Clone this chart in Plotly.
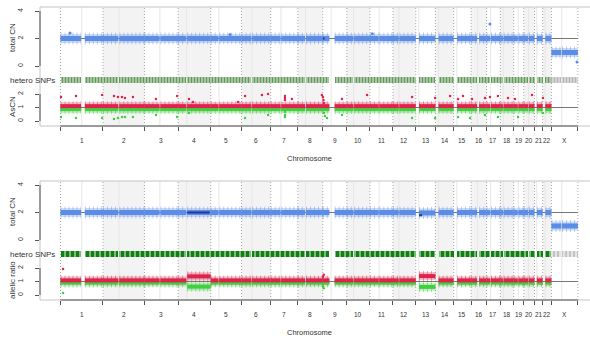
import plotly.graph_objects as go

# ---------------- data ----------------
CHROMS = ["1", "2", "3", "4", "5", "6", "7", "8", "9", "10", "11", "12",
          "13", "14", "15", "16", "17", "18", "19", "20", "21", "22", "X"]
CHROM_LEN = [249.25, 243.20, 198.02, 191.15, 180.92, 171.12, 159.14, 146.36,
             141.21, 135.53, 135.01, 133.85, 115.17, 107.35, 102.53, 90.35,
             81.20, 78.08, 59.13, 63.03, 48.13, 51.30, 155.27]
CENTROMERE = [125.0, 93.3, 91.0, 50.4, 48.4, 61.0, 59.9, 45.6, 49.0, 40.2, 53.7,
              35.8, 17.9, 17.6, 19.0, 36.6, 24.0, 17.2, 26.5, 27.5, 13.2, 14.7, 60.6]
GAP_START = [121, 90, 89, 48, 46, 58, 58, 43, 39, 39, 51, 34, 0, 0, 0, 35, 22, 15, 24, 26, 0, 0, 58]
GAP_END = [143, 96, 94, 53, 50, 62, 62, 48, 70, 43, 55, 38, 19, 19, 20, 47, 26, 19, 28, 30, 14, 16, 62]

# arm-level (p, q) values
TOP_CN_P = [2.0, 2.0, 2.0, 2.0, 2.0, 2.0, 2.0, 2.0, 2.0, 2.0, 2.0, 2.0, None, None, None, 2.0, 2.0, 2.0, 2.0, 2.0, None, None, 0.98]
TOP_CN_Q = [2.0, 2.0, 2.0, 2.0, 2.0, 2.0, 2.0, 2.0, 2.0, 2.0, 2.0, 2.0, 2.0, 2.0, 2.0, 2.0, 2.0, 2.0, 2.0, 2.0, 2.0, 2.0, 0.98]
TOP_MAJ_P = [1.1, 1.1, 1.1, 1.1, 1.1, 1.1, 1.1, 1.1, 1.1, 1.1, 1.1, 1.1, None, None, None, 1.1, 1.1, 1.1, 1.1, 1.1, None, None, None]
TOP_MAJ_Q = [1.1, 1.1, 1.1, 1.1, 1.1, 1.1, 1.1, 1.1, 1.1, 1.1, 1.1, 1.1, 1.1, 1.1, 1.1, 1.1, 1.1, 1.1, 1.1, 1.1, 1.1, 1.1, None]
TOP_MIN_P = [0.88, 0.88, 0.88, 0.88, 0.88, 0.88, 0.88, 0.88, 0.88, 0.88, 0.88, 0.88, None, None, None, 0.88, 0.88, 0.88, 0.88, 0.88, None, None, None]
TOP_MIN_Q = [0.88, 0.88, 0.88, 0.88, 0.88, 0.88, 0.88, 0.88, 0.88, 0.88, 0.88, 0.88, 0.88, 0.88, 0.88, 0.88, 0.88, 0.88, 0.88, 0.88, 0.88, 0.88, None]

BOT_CN_P = [2.0, 2.0, 2.0, 2.0, 2.0, 2.0, 2.0, 2.0, 2.0, 2.0, 2.0, 2.0, None, None, None, 2.0, 2.0, 2.0, 2.0, 2.0, None, None, 1.02]
BOT_CN_Q = [2.0, 2.0, 2.0, 2.0, 2.0, 2.0, 2.0, 2.0, 2.0, 2.0, 2.0, 2.0, 1.97, 2.0, 2.0, 2.0, 2.0, 2.0, 2.0, 2.0, 2.0, 2.0, 1.02]
BOT_MAJ_P = [1.08, 1.08, 1.08, 1.08, 1.08, 1.08, 1.08, 1.08, 1.08, 1.08, 1.08, 1.08, None, None, None, 1.08, 1.08, 1.08, 1.08, 1.08, None, None, None]
BOT_MAJ_Q = [1.08, 1.08, 1.08, 1.38, 1.08, 1.08, 1.08, 1.08, 1.08, 1.08, 1.08, 1.08, 1.40, 1.08, 1.08, 1.08, 1.08, 1.08, 1.08, 1.08, 1.08, 1.08, None]
BOT_MIN_P = [0.92, 0.92, 0.92, 0.92, 0.92, 0.92, 0.92, 0.92, 0.92, 0.92, 0.92, 0.92, None, None, None, 0.92, 0.92, 0.92, 0.92, 0.92, None, None, None]
BOT_MIN_Q = [0.92, 0.92, 0.92, 0.62, 0.92, 0.92, 0.92, 0.92, 0.92, 0.92, 0.92, 0.92, 0.60, 0.92, 0.92, 0.92, 0.92, 0.92, 0.92, 0.92, 0.92, 0.92, None]

# scattered points (genome position in Mb, value)
TOP_CN_OUT_POS = [56, 995, 1830, 2520, 3031]
TOP_CN_OUT_VAL = [2.4, 2.3, 2.35, 3.05, 0.29]
TOP_MAJ_OUT_POS = [3, 91, 244, 314, 337, 361, 378, 425, 560, 684, 754, 778, 1042, 1083, 1182, 1218,
                   1317, 1317, 1317, 1358, 1534, 1540, 1543, 1546, 1652, 1799, 2063, 2198, 2286, 2333,
                   2362, 2415, 2491, 2520, 2567, 2626, 2667, 2767, 2831]
TOP_MAJ_OUT_VAL = [1.78, 1.85, 1.93, 1.85, 1.78, 1.78, 1.70, 1.78, 1.63, 1.85, 1.63, 1.41, 1.41, 1.85, 1.93, 2.0,
                   1.85, 1.70, 1.56, 1.63, 1.93, 1.78, 1.56, 1.33, 1.63, 1.93, 1.78, 1.70, 1.85, 1.63,
                   1.85, 1.63, 1.70, 1.78, 1.85, 1.70, 1.63, 1.93, 1.70]
TOP_MIN_OUT_POS = [3, 91, 244, 314, 337, 361, 378, 425, 560, 684, 754, 1083, 1218, 1317, 1317, 1317,
                   1534, 1546, 1552, 1564, 1652, 2063, 2198, 2333, 2403, 2491, 2567, 2685, 2831]
TOP_MIN_OUT_VAL = [0.30, 0.22, 0.22, 0.15, 0.22, 0.30, 0.30, 0.30, 0.44, 0.30, 0.59, 0.22, 0.44, 0.67, 0.44, 0.30,
                   0.81, 0.59, 0.37, 0.22, 0.44, 0.22, 0.22, 0.30, 0.22, 0.44, 0.30, 0.30, 0.59]
BOT_MAJ_OUT_POS = [15, 1540, 1545]
BOT_MAJ_OUT_VAL = [1.93, 1.35, 1.5]
BOT_MIN_OUT_POS = [15, 1540, 1545]
BOT_MIN_OUT_VAL = [0.15, 0.65, 0.5]

# darker (dense) segments: start Mb, end Mb, value
TOP_DARK_S = [1539]
TOP_DARK_E = [1550]
TOP_DARK_V = [2.0]
BOT_DARK_S = [743, 2104]
BOT_DARK_E = [875, 2122]
BOT_DARK_V = [2.0, 1.8]

# ---------------- geometry helpers ----------------
W, H = 590, 342


def fx(p):
    return p / W


def fy(p):
    return 1 - p / H


offsets = []
acc = 0.0
for L in CHROM_LEN:
    offsets.append(acc)
    acc += L
GENOME_END = acc
bounds = offsets + [GENOME_END]
mids = [o + L / 2 for o, L in zip(offsets, CHROM_LEN)]

FONT = "Liberation Sans, Arial, sans-serif"
BLUE, BLUE_H, BLUE_S = "#5b8ce6", "rgba(91,140,230,0.3)", "rgba(91,140,230,0.4)"
RED, RED_H, RED_S = "#e0234e", "rgba(224,35,78,0.3)", "rgba(224,35,78,0.4)"
GREEN, GREEN_H, GREEN_S = "#3fcf3f", "rgba(63,207,63,0.3)", "rgba(63,207,63,0.45)"

fig = go.Figure()


def arm_segments(pvals, qvals):
    s, e, v, c = [], [], [], []
    for i in range(len(CHROMS)):
        o = offsets[i]
        if pvals[i] is not None and GAP_START[i] > 0:
            s.append(o); e.append(o + GAP_START[i]); v.append(pvals[i]); c.append(i)
        if qvals[i] is not None:
            s.append(o + GAP_END[i]); e.append(o + CHROM_LEN[i]); v.append(qvals[i]); c.append(i)
    return s, e, v, c


def add_band(s, e, v, xa, ya, color, width, dash="solid"):
    xs, ys = [], []
    for a, b, val in zip(s, e, v):
        xs += [a, b, None]
        ys += [val, val, None]
    fig.add_trace(go.Scatter(x=xs, y=ys, mode="lines", line=dict(color=color, width=width, dash=dash),
                             xaxis=xa, yaxis=ya, hoverinfo="skip", showlegend=False))


def add_pts(xv, yv, xa, ya, color, size=3):
    fig.add_trace(go.Scatter(x=xv, y=yv, mode="markers", marker=dict(color=color, size=size, line=dict(width=0)),
                             xaxis=xa, yaxis=ya, hoverinfo="skip", showlegend=False))


def add_snp(s, e, xa, ya, fg, bg, size, solidity):
    if not s:
        return
    fig.add_trace(go.Bar(x=[(a + b) / 2 for a, b in zip(s, e)], y=[1] * len(s),
                         width=[b - a for a, b in zip(s, e)], base=0,
                         marker=dict(color=bg, line=dict(width=0),
                                     pattern=dict(shape="|", fgcolor=fg, bgcolor=bg, fgopacity=1,
                                                  size=size, solidity=solidity)),
                         xaxis=xa, yaxis=ya, hoverinfo="skip", showlegend=False))


panels = [
    dict(xa="x", ycn="y", ysnp="y2", yas="y3", dy=0, cn=(TOP_CN_P, TOP_CN_Q), maj=(TOP_MAJ_P, TOP_MAJ_Q),
         mn=(TOP_MIN_P, TOP_MIN_Q), cnout=(TOP_CN_OUT_POS, TOP_CN_OUT_VAL), majout=(TOP_MAJ_OUT_POS, TOP_MAJ_OUT_VAL),
         minout=(TOP_MIN_OUT_POS, TOP_MIN_OUT_VAL), dark=(TOP_DARK_S, TOP_DARK_E, TOP_DARK_V),
         snp=("#5f9c5a", "#b9ceb4", 3, 0.45), snpx=("#b5b5b5", "#dedede", 3, 0.5), label="AsCN"),
    dict(xa="x2", ycn="y4", ysnp="y5", yas="y6", dy=174, cn=(BOT_CN_P, BOT_CN_Q), maj=(BOT_MAJ_P, BOT_MAJ_Q),
         mn=(BOT_MIN_P, BOT_MIN_Q), cnout=([], []), majout=(BOT_MAJ_OUT_POS, BOT_MAJ_OUT_VAL),
         minout=(BOT_MIN_OUT_POS, BOT_MIN_OUT_VAL), dark=(BOT_DARK_S, BOT_DARK_E, BOT_DARK_V),
         snp=("#108010", "#e8f2e8", 5, 0.8), snpx=("#c4c4c4", "#e4e4e4", 4, 0.5), label="allelic ratio"),
]

shapes = []
annotations = []
layout_axes = {}


def label(text, x_px, y_px, size=8, angle=0, xanchor="center", xref="paper", x_data=None):
    annotations.append(dict(text=text, x=(x_data if x_data is not None else fx(x_px)), y=fy(y_px),
                            xref=xref, yref="paper", xanchor=xanchor, yanchor="middle", textangle=angle,
                            showarrow=False, font=dict(size=size, color="#333333", family=FONT)))


for k, P in enumerate(panels):
    dy = P["dy"]
    xa, ycn, ysnp, yas = P["xa"], P["ycn"], P["ysnp"], P["yas"]
    top_px, bot_px = 7 + dy, 126 + dy

    # background shading, centromeres, boundaries
    for i in range(len(CHROMS)):
        if i % 2 == 1:
            shapes.append(dict(type="rect", xref=xa, yref="paper", x0=bounds[i], x1=bounds[i + 1],
                               y0=fy(bot_px), y1=fy(top_px), fillcolor="#f3f3f3", line=dict(width=0), layer="below"))
    for i in range(len(CHROMS)):
        c = offsets[i] + CENTROMERE[i]
        shapes.append(dict(type="line", xref=xa, yref="paper", x0=c, x1=c, y0=fy(bot_px), y1=fy(top_px),
                           line=dict(color="#e6e6e6", width=1), layer="below"))
    for b in bounds:
        shapes.append(dict(type="line", xref=xa, yref="paper", x0=b, x1=b, y0=fy(bot_px), y1=fy(top_px),
                           line=dict(color="#a8a8a8", width=1, dash="1px,2px"), layer="below"))
    # frame
    shapes.append(dict(type="rect", xref="paper", yref="paper", x0=fx(40), x1=fx(600), y0=fy(bot_px), y1=fy(top_px),
                       line=dict(color="#c4c4c4", width=1), fillcolor="rgba(0,0,0,0)", layer="below"))
    # reference lines
    shapes.append(dict(type="line", xref=xa, yref=ycn, x0=0, x1=GENOME_END, y0=2, y1=2,
                       line=dict(color="#777777", width=1), layer="below"))
    shapes.append(dict(type="line", xref=xa, yref=yas, x0=0, x1=GENOME_END, y0=1, y1=1,
                       line=dict(color="#777777", width=1), layer="below"))
    # axis lines
    shapes.append(dict(type="line", xref="paper", yref=ycn, x0=fx(40), x1=fx(40), y0=0, y1=4,
                       line=dict(color="#555555", width=1)))
    shapes.append(dict(type="line", xref="paper", yref=yas, x0=fx(40), x1=fx(40), y0=0, y1=2,
                       line=dict(color="#555555", width=1)))
    shapes.append(dict(type="line", xref=xa, yref="paper", x0=0, x1=GENOME_END, y0=fy(bot_px), y1=fy(bot_px),
                       line=dict(color="#555555", width=1)))

    # CN band
    s, e, v, c = arm_segments(*P["cn"])
    add_band(s, e, v, xa, ycn, BLUE_H, 9)
    add_band(s, e, v, xa, ycn, BLUE_S, 12, "1px,3px")
    add_band(s, e, v, xa, ycn, BLUE, 5)
    ds, de, dv = P["dark"]
    add_band(ds, de, dv, xa, ycn, "#23399a", 2)
    if P["cnout"][0]:
        add_pts(P["cnout"][0], P["cnout"][1], xa, ycn, BLUE)

    # SNP track
    sa = [a for a, ci in zip(s, c) if CHROMS[ci] != "X"]
    ea = [b for b, ci in zip(e, c) if CHROMS[ci] != "X"]
    sx = [a for a, ci in zip(s, c) if CHROMS[ci] == "X"]
    ex = [b for b, ci in zip(e, c) if CHROMS[ci] == "X"]
    add_snp(sa, ea, xa, ysnp, *P["snp"])
    add_snp(sx, ex, xa, ysnp, *P["snpx"])

    # allelic bands
    s2, e2, v2, _ = arm_segments(*P["mn"])
    s3, e3, v3, _ = arm_segments(*P["maj"])
    add_band(s2, e2, v2, xa, yas, GREEN_H, 8)
    add_band(s2, e2, v2, xa, yas, GREEN_S, 10, "1px,3px")
    add_band(s3, e3, v3, xa, yas, RED_H, 8)
    add_band(s3, e3, v3, xa, yas, RED_S, 10, "1px,3px")
    add_band(s2, e2, v2, xa, yas, GREEN, 4)
    add_band(s3, e3, v3, xa, yas, RED, 4)
    add_pts(P["minout"][0], P["minout"][1], xa, yas, GREEN, 2.5)
    add_pts(P["majout"][0], P["majout"][1], xa, yas, RED, 2.5)

    # axes
    xname = "xaxis" if k == 0 else "xaxis2"
    layout_axes[xname] = dict(domain=[fx(40), 1], range=[-120.3, 3107.3], anchor=yas, showgrid=False,
                              zeroline=False, showline=False, ticks="outside", ticklen=4, tickwidth=1,
                              tickcolor="#555555", tickvals=bounds, showticklabels=False, fixedrange=True)
    yn = lambda name: "yaxis" if name == "y" else "yaxis" + name[1:]
    layout_axes[yn(ycn)] = dict(domain=[fy(70 + dy), fy(7 + dy)], range=[-0.291, 4.291], anchor=xa,
                                showgrid=False, zeroline=False, showline=False, ticks="outside", ticklen=4,
                                tickcolor="#555555", tickvals=[0, 2, 4], ticktext=["0", "2", "4"], tickangle=-90,
                                ticklabelstandoff=9,
                                tickfont=dict(size=7, color="#333333", family=FONT))
    layout_axes[yn(ysnp)] = dict(domain=[fy(83 + dy), fy(76.5 + dy)], range=[0, 1], anchor=xa, visible=False)
    layout_axes[yn(yas)] = dict(domain=[fy(126 + dy), fy(88 + dy)], range=[-0.370, 2.444], anchor=xa,
                                showgrid=False, zeroline=False, showline=False, ticks="outside", ticklen=4,
                                tickcolor="#555555", tickvals=[0, 1, 2], ticktext=["0", "1", "2"], tickangle=-90,
                                ticklabelstandoff=9,
                                tickfont=dict(size=7, color="#333333", family=FONT))

    # labels
    label("total CN", 12, 38 + dy, angle=-90)
    label("hetero SNPs", 57, 80 + dy, xanchor="right")
    label(P["label"], 12, (107 if k == 0 else 106) + dy, angle=-90)
    for name, m in zip(CHROMS, mids):
        label(name, 0, 140 + dy, size=6.5, xref=xa, x_data=m)
    label("Chromosome", 309, 158 + dy, size=7.5)

fig.update_layout(
    width=W, height=H, margin=dict(l=0, r=0, t=0, b=0),
    paper_bgcolor="white", plot_bgcolor="rgba(0,0,0,0)",
    barmode="overlay", bargap=0, showlegend=False,
    shapes=shapes, annotations=annotations,
    font=dict(family=FONT),
    **layout_axes,
)

fig.write_html("out.html", config={"displayModeBar": False, "staticPlot": True},
               post_script="document.body.style.margin='0px';document.body.style.overflow='hidden';")
